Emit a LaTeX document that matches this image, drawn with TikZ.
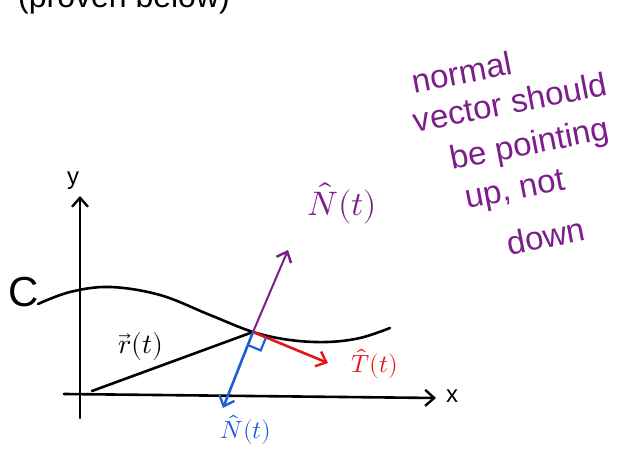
\documentclass[tikz,border=0pt]{standalone}
\usepackage{unicode-math}
\setmainfont{Liberation Sans}
\setmathfont{Latin Modern Math}
\usetikzlibrary{arrows.meta}
\definecolor{hpurple}{RGB}{125,30,140}
\definecolor{hred}{RGB}{230,20,20}
\definecolor{hblue}{RGB}{30,95,215}
\tikzset{
  pen/.style={line width=2.6pt, line cap=round, line join=round},
  tip/.style={-{Straight Barb[length=9pt,width=16pt,line width=2.4pt]}},
  note/.style={hpurple, font=\fontsize{33}{36}\selectfont, rotate=11, inner sep=0pt}
}
\begin{document}
\begin{tikzpicture}[x=1pt,y=-1pt]
\useasboundingbox (0,0) rectangle (622,454);
\clip (0,0) rectangle (622,454);
% clipped header
\node[font=\fontsize{32}{34}\selectfont, anchor=base west, inner sep=0pt] (hdr) at (18,8) {(proven below)};
% axes
\coordinate (yb) at (80,418);
\coordinate (yt) at (80,196);
\coordinate (xl) at (64,394);
\coordinate (xr) at (436,398);
\draw[pen, tip] (yb) -- (yt);
\draw[pen, tip] (xl) -- (xr);
\node[font=\fontsize{24}{24}\selectfont] (ylab) at (73,181) {y};
\node[font=\fontsize{24}{24}\selectfont] (xlab) at (452,396) {x};
% curve
\coordinate (P) at (253,332);
\draw[pen] plot[smooth, tension=0.6] coordinates {(38,304) (70,292) (110,287) (160,295) (210,315) (P) (290,340) (327,342) (360,338) (390,328)};
\node[font=\fontsize{42}{42}\selectfont] (C) at (24,292) {C};
% position vector
\coordinate (O) at (92,391);
\draw[pen] (O) -- (P);
\node[font=\fontsize{28}{28}\selectfont] (rl) at (141,347) {$\vec{r}(t)$};
% vectors
\coordinate (Nu) at (288,250);
\coordinate (Tt) at (328,363);
\coordinate (Nd) at (223,408);
\draw[pen, hpurple, tip, line width=2pt] (P) -- (Nu);
\draw[pen, hred, tip] (P) -- (Tt);
\draw[pen, hblue, tip] (P) -- (Nd);
% right angle
\draw[hblue, line width=2.2pt] (266,337.4) -- (260.7,350.4) -- (247.8,345);
% labels
\node[hpurple, font=\fontsize{34}{34}\selectfont] (Nul) at (342,203) {$\hat{N}(t)$};
\node[hred, font=\fontsize{25}{25}\selectfont] (Tl) at (375,364) {$\hat{T}(t)$};
\node[hblue, font=\fontsize{25}{25}\selectfont] (Ndl) at (246,430) {$\hat{N}(t)$};
% note
\node[note] (n1) at (462,72) {normal};
\node[note] (n2) at (510,102) {vector should};
\node[note] (n3) at (530,146) {be pointing};
\node[note] (n4) at (516,192) {up, not};
\node[note] (n5) at (546,236) {down};
\end{tikzpicture}
\end{document}
